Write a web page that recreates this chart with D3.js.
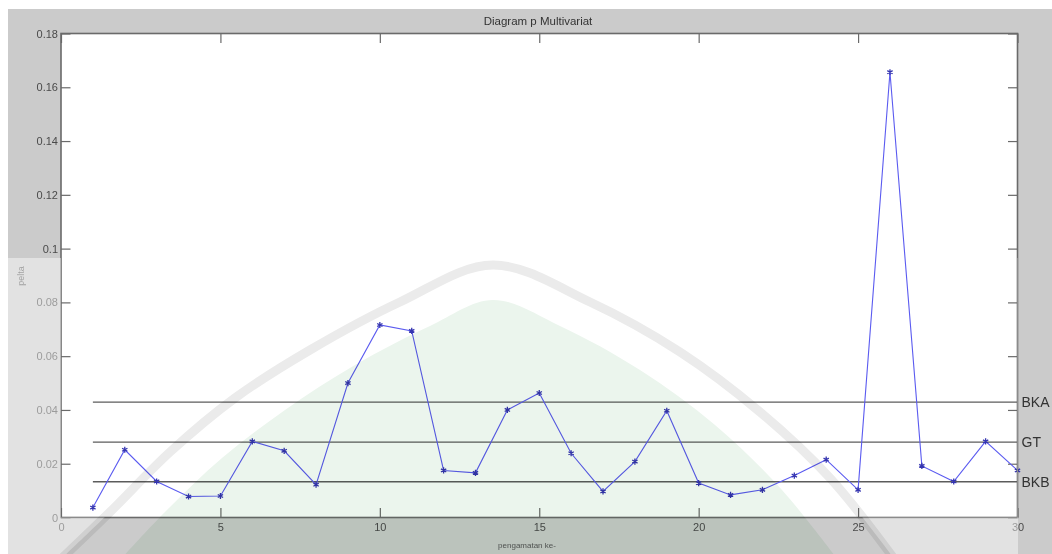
<!DOCTYPE html>
<html>
<head>
<meta charset="utf-8">
<script src="https://cdn.jsdelivr.net/npm/d3@7"></script>
<style>
  html, body { margin: 0; padding: 0; background: #ffffff; }
  svg { display: block; }
</style>
</head>
<body>
<svg id="chart" width="1052" height="554"></svg>
<script>
// ---- chart data ----
const titleText = "Diagram p Multivariat";
const xLabelText = "pengamatan ke-";
const yLabelText = "pelta";
const observations = d3.range(1, 31);
const pValues = [
  0.0037, 0.0252, 0.0134, 0.0078, 0.0080, 0.0283, 0.0248, 0.0122, 0.0500, 0.0716,
  0.0694, 0.0175, 0.0166, 0.0400, 0.0463, 0.0239, 0.0097, 0.0208, 0.0397, 0.0128,
  0.0084, 0.0103, 0.0156, 0.0215, 0.0103, 0.1656, 0.0192, 0.0134, 0.0283, 0.0175
];
const limitNames = ["BKA", "GT", "BKB"];
const limitValues = [0.0429, 0.0280, 0.0133];
const xTickValues = [0, 5, 10, 15, 20, 25, 30];
const yTickValues = [0, 0.02, 0.04, 0.06, 0.08, 0.1, 0.12, 0.14, 0.16, 0.18];

// ---- layout ----
const W = 1052, H = 554;
const plot = { left: 61, right: 1017.5, top: 33.5, bottom: 517.5 };
const tickLen = 9.5;
const font = "Arial, 'Liberation Sans', Helvetica, sans-serif";

const svg = d3.select("#chart");

// figure background (grey window with a thin white edge at top/left)
svg.append("rect").attr("x", 0).attr("y", 0).attr("width", W).attr("height", H).attr("fill", "#ffffff");
svg.append("rect").attr("x", 8).attr("y", 9).attr("width", W - 8).attr("height", H - 9).attr("fill", "#cbcbcb");

const x = d3.scaleLinear().domain([0, 30]).range([plot.left, plot.right]);
const y = d3.scaleLinear().domain([0, 0.18]).range([plot.bottom, plot.top]);

// axes area
svg.append("rect")
  .attr("x", plot.left).attr("y", plot.top)
  .attr("width", plot.right - plot.left).attr("height", plot.bottom - plot.top)
  .attr("fill", "#ffffff");

const fmtY = v => String(+v.toFixed(2));

// axes on all four sides, ticks pointing inward, labels on bottom/left
const xAxisBottom = d3.axisBottom(x).tickValues(xTickValues).tickSizeInner(-tickLen).tickSizeOuter(0).tickPadding(6).tickFormat(d3.format("d"));
const yAxisLeft = d3.axisLeft(y).tickValues(yTickValues).tickSizeInner(-tickLen).tickSizeOuter(0).tickFormat(fmtY);
const xAxisTop = d3.axisTop(x).tickValues(xTickValues).tickSizeInner(-tickLen).tickSizeOuter(0).tickFormat("");
const yAxisRight = d3.axisRight(y).tickValues(yTickValues).tickSizeInner(-tickLen).tickSizeOuter(0).tickFormat("");

function styleAxis(g) {
  g.select(".domain").remove();
  g.selectAll(".tick line").attr("stroke", "#6a6a6a").attr("stroke-width", 1.2);
  g.selectAll(".tick text").attr("fill", "#4a4a4a").style("font-family", font).style("font-size", "11px");
}

svg.append("g").attr("transform", `translate(0,${plot.bottom})`).call(xAxisBottom).call(styleAxis);
svg.append("g").attr("transform", `translate(${plot.left},0)`).call(yAxisLeft).call(styleAxis)
  .selectAll(".tick text").attr("x", -3);
svg.append("g").attr("transform", `translate(0,${plot.top})`).call(xAxisTop).call(styleAxis);
svg.append("g").attr("transform", `translate(${plot.right},0)`).call(yAxisRight).call(styleAxis);

// control limit lines
const limits = limitNames.map((n, i) => ({ name: n, value: limitValues[i] }));
svg.append("g").selectAll("line").data(limits).join("line")
  .attr("x1", x(1)).attr("x2", x(30))
  .attr("y1", d => y(d.value)).attr("y2", d => y(d.value))
  .attr("stroke", "#5c5c5c").attr("stroke-width", 1.3);

svg.append("g").selectAll("text").data(limits).join("text")
  .attr("x", plot.right + 4).attr("y", d => y(d.value) + 5)
  .attr("fill", "#333333")
  .style("font-family", font).style("font-size", "14px")
  .text(d => d.name);

// p series
const series = observations.map((o, i) => ({ o, p: pValues[i] }));
svg.append("path").datum(series)
  .attr("fill", "none").attr("stroke", "#5b5bf0").attr("stroke-width", 1.1)
  .attr("d", d3.line().x(d => x(d.o)).y(d => y(d.p)));

svg.append("g").selectAll("path").data(series).join("path")
  .attr("transform", d => `translate(${x(d.o)},${y(d.p)})`)
  .attr("d", d3.symbol(d3.symbolAsterisk, 26))
  .attr("fill", "none").attr("stroke", "#3535b0").attr("stroke-width", 1.3);

// axes box
svg.append("rect")
  .attr("x", plot.left).attr("y", plot.top)
  .attr("width", plot.right - plot.left).attr("height", plot.bottom - plot.top)
  .attr("fill", "none").attr("stroke", "#6a6a6a").attr("stroke-width", 1.6);

// titles
svg.append("text").attr("x", 538).attr("y", 25)
  .attr("text-anchor", "middle").attr("fill", "#333333")
  .style("font-family", font).style("font-size", "11.5px").text(titleText);
svg.append("text").attr("x", 527).attr("y", 548)
  .attr("text-anchor", "middle").attr("fill", "#555555")
  .style("font-family", font).style("font-size", "8px").text(xLabelText);
svg.append("text").attr("transform", `translate(24,${276}) rotate(-90)`)
  .attr("text-anchor", "middle").attr("fill", "#555555")
  .style("font-family", font).style("font-size", "9px").text(yLabelText);

// ---- faint arch-shaped emblem laid over the lower part of the figure ----
const emblem = svg.append("g").style("pointer-events", "none");
const archOuter = [
  [60, 560], [110, 512], [170, 452], [235, 398], [310, 350], [400, 302], [493, 265],
  [590, 302], [680, 352], [760, 412], [830, 478], [895, 560]
];
const archInner = [
  [120, 560], [165, 512], [222, 458], [285, 410], [355, 365], [430, 326], [493, 300],
  [560, 326], [640, 370], [715, 425], [782, 490], [838, 560]
];
const smooth = d3.line().curve(d3.curveCatmullRom.alpha(0.5));

// clip: only the grey margins around the axes get the haze
svg.append("defs").append("clipPath").attr("id", "margins")
  .append("path")
  .attr("clip-rule", "evenodd")
  .attr("d", `M0,0 L${W},0 L${W},${H} L0,${H} Z M${plot.left},${plot.top} L${plot.right},${plot.top} L${plot.right},${plot.bottom} L${plot.left},${plot.bottom} Z`);

// whitish haze around the emblem (outside the arch)
emblem.append("path")
  .attr("clip-path", "url(#margins)")
  .attr("d", `M0,258 L1018,258 L1018,${H} L0,${H} Z ` + smooth(archOuter) + "Z")
  .attr("fill-rule", "evenodd")
  .attr("fill", "#ffffff").attr("opacity", 0.45);

// outer light band of the arch
emblem.append("path").attr("d", smooth(archOuter))
  .attr("fill", "none").attr("stroke", "#ebebeb").attr("stroke-width", 9)
  .style("mix-blend-mode", "multiply");

// pale green interior
emblem.append("path").attr("d", smooth(archInner) + "Z")
  .attr("fill", "#ebf5ed")
  .style("mix-blend-mode", "multiply");
</script>
</body>
</html>
